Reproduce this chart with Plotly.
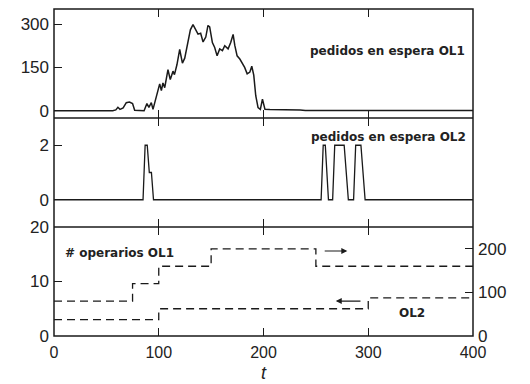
import plotly.graph_objects as go

# ---- data ----
top_t = [0, 56, 59, 61, 63, 66, 69, 72, 75, 77, 86, 88.7, 90.6, 92.9, 94.5, 97, 100.9, 102.5, 104, 105.7,
         108.8, 111, 113.6, 115, 117.4, 120, 122.6, 124.8, 128, 130.2, 132.7, 135.3, 137.5, 140, 142.3, 144.9,
         147, 148.6, 151.2, 153.4, 155.7, 158.2, 160.8, 163, 166.2, 168.7, 171, 172.6, 174.8, 177.4, 179.9,
         182, 184.4, 187, 188.8, 190.7, 192.6, 194.8, 197, 199, 201.4, 206, 235, 240, 400]
top_ol1 = [0, 0, 3, 12, 5, 10, 28, 30, 25, 2, 0, 25, 12, 28, 5, 41, 93, 70, 96, 80,
           142, 108, 137, 125, 160, 212, 165, 182, 240, 280, 298, 282, 265, 268, 238, 255,
           295, 290, 236, 219, 190, 214, 208, 225, 214, 236, 264, 226, 190, 179, 162,
           150, 128, 134, 154, 123, 52, 11, 5, 40, 5, 4, 3, 1, 1]

mid_t = [0, 85, 87, 89, 91, 93, 95, 255, 257, 259, 262, 266, 268, 277, 281, 286, 288, 293, 297, 400]
mid_ol2 = [0, 0, 2, 2, 1, 1, 0, 0, 2, 2, 0, 0, 2, 2, 0, 0, 2, 2, 0, 0]

op1_t = [0, 75, 100, 150, 250, 400]
op1_v = [80, 120, 160, 200, 160, 160]
op2_t = [0, 100, 300, 400]
op2_v = [3, 5, 7, 7]

x_ticks = [0, 100, 200, 300, 400]
top_ticks = [0, 150, 300]
mid_ticks = [0, 2]
bot_left_ticks = [0, 10, 20]
bot_right_ticks = [0, 100, 200]

LC = "#1a1a1a"
TC = "#222222"
TICKFONT = dict(family="Liberation Sans, Arial, sans-serif", size=17, color=TC)
XTICKFONT = dict(family="Liberation Sans, Arial, sans-serif", size=16, color=TC)
ANNFONT = dict(family="DejaVu Sans", size=12, color=TC)

fig = go.Figure()
fig.add_trace(go.Scatter(x=top_t, y=top_ol1, mode="lines", line=dict(color=LC, width=1.5),
                         xaxis="x3", yaxis="y4", showlegend=False))
fig.add_trace(go.Scatter(x=mid_t, y=mid_ol2, mode="lines", line=dict(color=LC, width=1.3),
                         xaxis="x2", yaxis="y3", showlegend=False))
fig.add_trace(go.Scatter(x=op1_t, y=op1_v, mode="lines", line=dict(color=LC, width=1.3, dash="8px,5px", shape="hv"),
                         xaxis="x", yaxis="y2", showlegend=False))
fig.add_trace(go.Scatter(x=op2_t, y=op2_v, mode="lines", line=dict(color=LC, width=1.3, dash="8px,5px", shape="hv"),
                         xaxis="x", yaxis="y", showlegend=False))

common_x = dict(range=[0, 400], tickvals=x_ticks, ticks="inside", ticklen=8, tickwidth=1.3, tickcolor=LC,
                showline=False, mirror="ticks", showgrid=False, zeroline=False, automargin=False,
                tickfont=XTICKFONT)
common_y = dict(ticks="inside", ticklen=8, tickwidth=1.3, tickcolor=LC, showline=False, automargin=False,
                showgrid=False, zeroline=False, tickfont=TICKFONT, ticklabelstandoff=4)

fig.update_layout(
    width=530, height=384,
    margin=dict(l=54, r=57, t=9, b=48),
    paper_bgcolor="white", plot_bgcolor="white",
    xaxis=dict(common_x, anchor="y", domain=[0, 1], ticklabelstandoff=5),
    yaxis=dict(common_y, domain=[0, 1/3], anchor="x", range=[0, 20], tickvals=bot_left_ticks, mirror=False),
    yaxis2=dict(common_y, overlaying="y", anchor="x", side="right", range=[0, 250], tickvals=bot_right_ticks),
    xaxis2=dict(common_x, anchor="y3", matches="x", showticklabels=False),
    yaxis3=dict(common_y, domain=[1/3, 2/3], anchor="x2", range=[-1, 3], tickvals=mid_ticks),
    xaxis3=dict(common_x, anchor="y4", matches="x", showticklabels=False),
    yaxis4=dict(common_y, domain=[2/3, 1], anchor="x3", range=[-25, 352], tickvals=top_ticks),
)

# panel frames
fig.add_shape(type="rect", xref="paper", yref="paper", x0=0, x1=1, y0=0, y1=1,
              line=dict(color=LC, width=1.5), layer="above")
for yb in (1/3, 2/3):
    fig.add_shape(type="line", xref="paper", yref="paper", x0=0, x1=1, y0=yb, y1=yb,
                  line=dict(color=LC, width=1.5), layer="above")

ann = [
    dict(text="<b>pedidos en espera OL1</b>", x=393, y=206, xref="x3", yref="y4", xanchor="right", yanchor="middle"),
    dict(text="<b>pedidos en espera OL2</b>", x=394, y=2.3, xref="x2", yref="y3", xanchor="right", yanchor="middle"),
    dict(text="<b># operarios OL1</b>", x=10, y=15.2, xref="x", yref="y", xanchor="left", yanchor="middle"),
    dict(text="<b>OL2</b>", x=328, y=4.3, xref="x", yref="y", xanchor="left", yanchor="middle"),
]
for a in ann:
    fig.add_annotation(showarrow=False, font=ANNFONT, borderpad=0, **a)

# x-axis title
fig.add_annotation(text="<i>t</i>", x=0.5, y=-0.1455, xref="paper", yref="paper", xanchor="center",
                   yanchor="bottom", showarrow=False, borderpad=0,
                   font=dict(family="Liberation Sans, Arial", size=18, color=TC))

# arrows
fig.add_annotation(x=280, y=195, ax=257, ay=195, xref="x", yref="y2", axref="x", ayref="y2",
                   text="", showarrow=True, arrowhead=2, arrowsize=1, arrowwidth=1.2, arrowcolor=LC)
fig.add_annotation(x=269, y=6.4, ax=294, ay=6.4, xref="x", yref="y", axref="x", ayref="y",
                   text="", showarrow=True, arrowhead=2, arrowsize=1, arrowwidth=1.2, arrowcolor=LC)

fig.write_html("out.html")
